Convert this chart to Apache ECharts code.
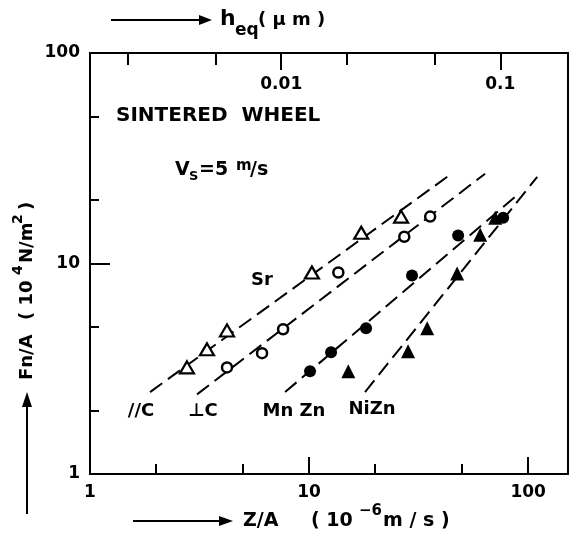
<!DOCTYPE html>
<html>
<head>
<meta charset="utf-8">
<script src="https://cdn.jsdelivr.net/npm/echarts@6/dist/echarts.min.js"></script>
<style>
html, body { margin: 0; padding: 0; background: #fff; }
#main { width: 570px; height: 534px; }
</style>
</head>
<body>
<div id="main"></div>
<script>
// Z/A (10^-6 m/s) against Fn/A (10^4 N/m^2), sintered wheel, Vs = 5 m/s
var paraC = [[2.77, 3.21], [3.42, 3.91], [4.22, 4.81], [10.3, 9.06], [17.3, 14.0], [26.3, 16.7]];
var perpC = [[4.22, 3.21], [6.10, 3.75], [7.61, 4.87], [13.6, 9.06], [27.2, 13.4], [35.7, 16.7]];
var mnZn = [[10.1, 3.08], [12.6, 3.79], [18.2, 4.92], [29.5, 8.77], [47.9, 13.6], [76.9, 16.5]];
var niZn = [[15.1, 3.08], [28.3, 3.83], [34.6, 4.92], [47.4, 8.97], [60.4, 13.7], [70.7, 16.5]];

// dashed fit lines (two ends each)
var paraFit = [[1.88, 2.45], [44.0, 26.4]];
var perpFit = [[3.08, 2.39], [63.6, 26.7]];
var mnZnFit = [[7.77, 2.45], [91.9, 21.7]];
var niZnFit = [[18.0, 2.45], [110, 25.8]];

// ticks
var xLabels = [1, 10, 100];
var xMajor = [10, 100];
var xMinor = [2, 5, 20, 50];
var yLabels = [1, 10, 100];
var yMajor = [10];
var yMinor = [2, 5, 20, 50];
var hLabels = [0.01, 0.1];
var hMinor = [0.002, 0.005, 0.02, 0.05];
var hPerZ = 0.00134;   // h_eq (um) per unit of Z/A
var zMin = 1, zMax = 152;

var FONT = 'DejaVu Sans';
var black = '#000';

function fmt(v) { return String(+(+v).toPrecision(3)); }

var dom = document.getElementById('main');
var myChart = echarts.init(dom);

function logAxis(opt) {
    var a = {
        type: 'log',
        logBase: 10,
        min: opt.min,
        max: opt.max,
        position: opt.position,
        splitLine: { show: false },
        axisLine: { show: opt.line, lineStyle: { color: black, width: 2 } },
        axisTick: {
            show: true,
            inside: true,
            length: opt.tickLen,
            customValues: opt.ticks,
            lineStyle: { color: black, width: 2 }
        },
        axisLabel: { show: false }
    };
    if (opt.labels) {
        a.axisLabel = {
            show: true,
            inside: !!opt.inside,
            margin: opt.margin,
            customValues: opt.labels,
            formatter: fmt,
            color: black,
            fontFamily: FONT,
            fontWeight: 'bold',
            fontSize: 17
        };
    }
    return a;
}

function txt(x, y, s, size, align) {
    return { type: 'text', x: x, y: y, style: {
        text: s, fontFamily: FONT, fontWeight: 'bold', fontSize: size,
        align: align || 'left', verticalAlign: 'middle', fill: black
    } };
}

var dash = { color: black, width: 2, type: [15, 7] };

var option = {
    animation: false,
    backgroundColor: '#fff',
    grid: {
        left: 90, right: 2, top: 53, bottom: 60,
        show: true, borderColor: black, borderWidth: 2
    },
    xAxis: [
        logAxis({ min: zMin, max: zMax, position: 'bottom', line: true, tickLen: 17, ticks: xMajor, labels: xLabels, margin: 10 }),
        logAxis({ min: zMin, max: zMax, position: 'bottom', line: false, tickLen: 10, ticks: xMinor }),
        logAxis({ min: zMin * hPerZ, max: zMax * hPerZ, position: 'top', line: false, tickLen: 17, ticks: hLabels, labels: hLabels, inside: true, margin: 23 }),
        logAxis({ min: zMin * hPerZ, max: zMax * hPerZ, position: 'top', line: false, tickLen: 12, ticks: hMinor })
    ],
    yAxis: [
        logAxis({ min: 1, max: 100, position: 'left', line: true, tickLen: 20, ticks: yMajor, labels: yLabels, margin: 10 }),
        logAxis({ min: 1, max: 100, position: 'left', line: false, tickLen: 9, ticks: yMinor })
    ],
    series: [
        { name: '//C fit', type: 'line', data: paraFit, showSymbol: false, lineStyle: dash, z: 2 },
        { name: '⊥C fit', type: 'line', data: perpFit, showSymbol: false, lineStyle: dash, z: 2 },
        { name: 'MnZn fit', type: 'line', data: mnZnFit, showSymbol: false, lineStyle: dash, z: 2 },
        { name: 'NiZn fit', type: 'line', data: niZnFit, showSymbol: false, lineStyle: dash, z: 2 },
        { name: '//C', type: 'scatter', data: paraC, symbol: 'triangle', symbolSize: [14, 12],
          itemStyle: { color: '#fff', borderColor: black, borderWidth: 2.2, opacity: 1 }, z: 5 },
        { name: '⊥C', type: 'scatter', data: perpC, symbol: 'circle', symbolSize: 10,
          itemStyle: { color: '#fff', borderColor: black, borderWidth: 2.5, opacity: 1 }, z: 5 },
        { name: 'MnZn', type: 'scatter', data: mnZn, symbol: 'circle', symbolSize: 12,
          itemStyle: { color: black, opacity: 1 }, z: 5 },
        { name: 'NiZn', type: 'scatter', data: niZn, symbol: 'triangle', symbolSize: 14,
          itemStyle: { color: black, opacity: 1 }, z: 5 }
    ],
    graphic: [
        // top axis title
        { type: 'line', shape: { x1: 111, y1: 20, x2: 202, y2: 20 }, style: { stroke: black, lineWidth: 2 } },
        { type: 'polygon', shape: { points: [[199, 15], [212, 20], [199, 25]] }, style: { fill: black } },
        txt(220, 19, 'h', 22),
        txt(235, 31, 'eq', 17),
        txt(258, 20, '( μ m )', 18),
        // annotations
        txt(116, 116, 'SINTERED  WHEEL', 20),
        txt(175, 170, 'V', 19),
        txt(189, 177, 'S', 13),
        txt(199, 170, '=5', 19),
        txt(236, 166, 'm', 15),
        txt(250, 170, '/s', 19),
        txt(262, 280, 'Sr', 18, 'center'),
        txt(141, 411, '//C', 18, 'center'),
        txt(203, 411, '⊥C', 18, 'center'),
        txt(294, 411, 'Mn Zn', 18, 'center'),
        txt(372, 409, 'NiZn', 18, 'center'),
        // x axis title
        { type: 'line', shape: { x1: 133, y1: 521, x2: 222, y2: 521 }, style: { stroke: black, lineWidth: 2 } },
        { type: 'polygon', shape: { points: [[219, 516], [233, 521], [219, 526]] }, style: { fill: black } },
        txt(243, 521, 'Z/A', 19),
        txt(311, 521, '( 10', 19),
        txt(359, 511, '−6', 15),
        txt(383, 521, 'm / s )', 19),
        // y axis title
        { type: 'line', shape: { x1: 27, y1: 514, x2: 27, y2: 405 }, style: { stroke: black, lineWidth: 2 } },
        { type: 'polygon', shape: { points: [[22, 407], [27, 392], [32, 407]] }, style: { fill: black } },
        { type: 'group', x: 27, y: 380, rotation: Math.PI / 2, children: [
            txt(0, 0, 'Fn/A', 18),
            txt(60, 0, '( 10', 18),
            txt(105, -9, '4', 14),
            txt(117, 0, 'N/m', 18),
            txt(156, -9, '2', 14),
            txt(170, 0, ')', 18)
        ] }
    ]
};

myChart.setOption(option);
</script>
</body>
</html>
